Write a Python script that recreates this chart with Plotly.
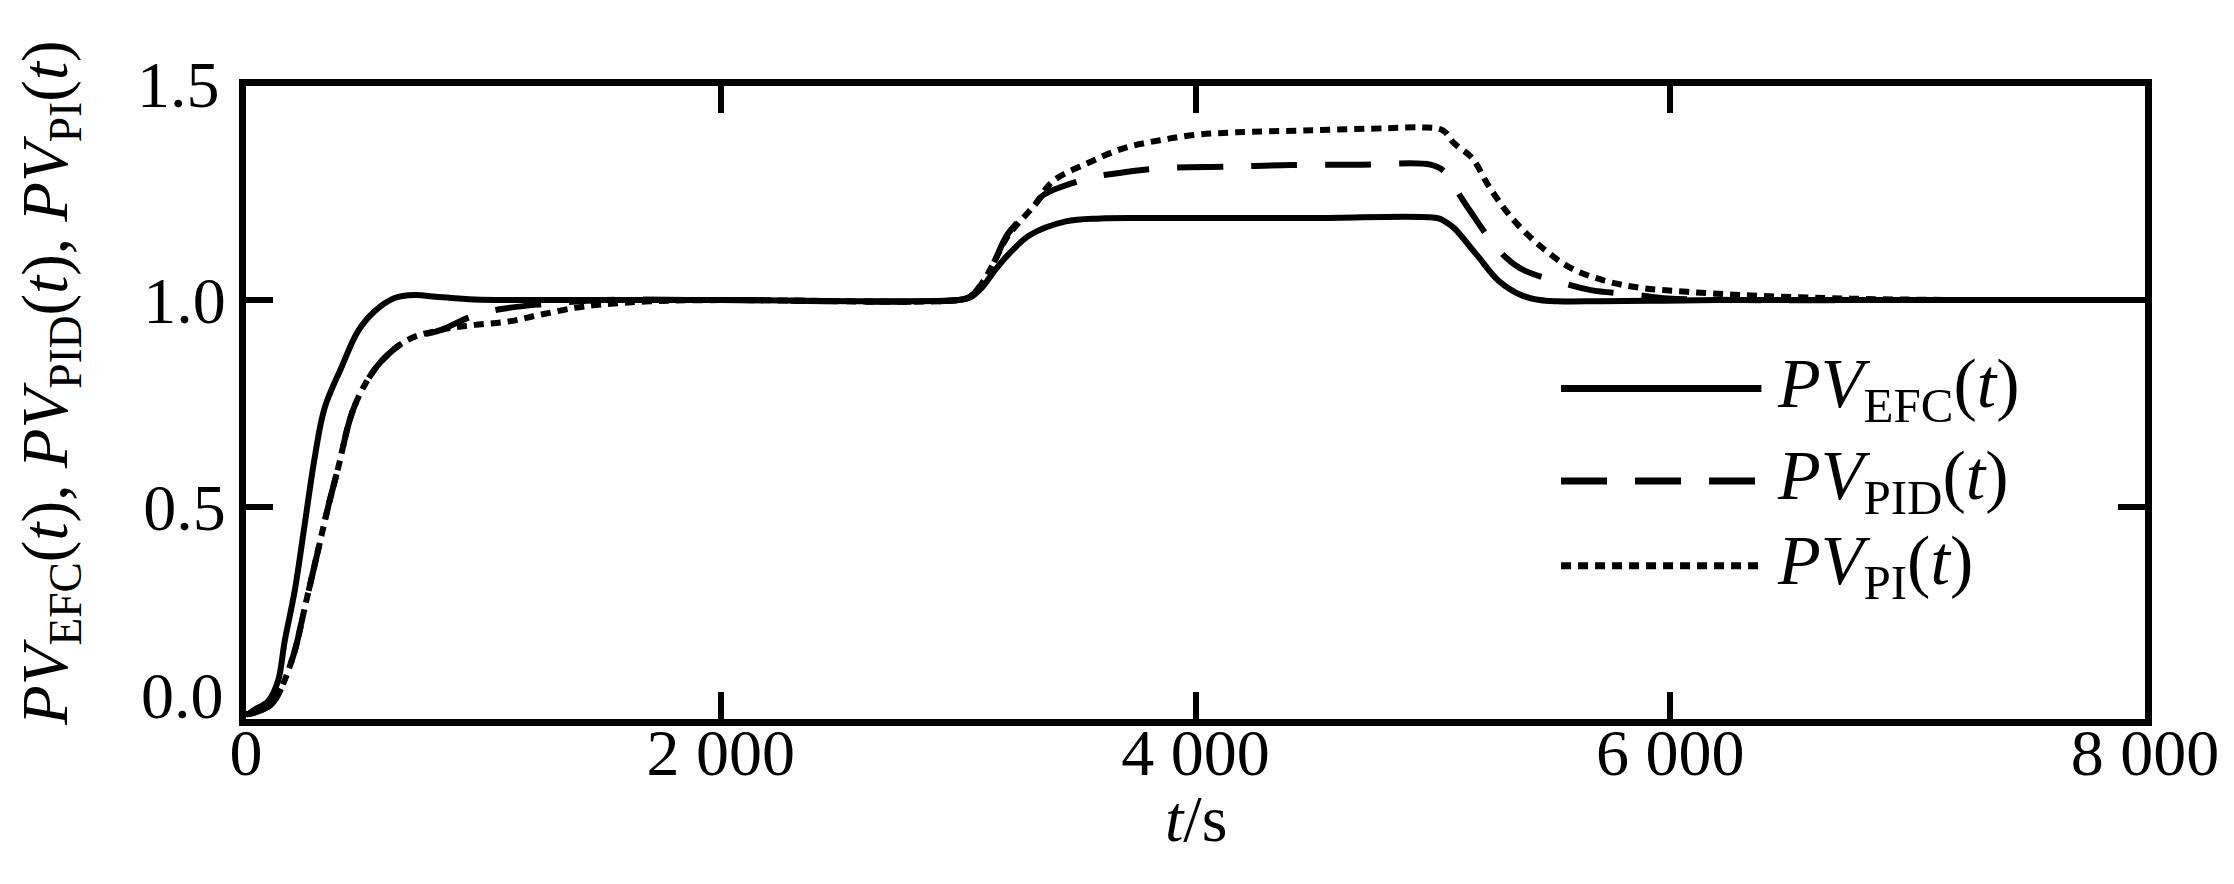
import plotly.graph_objects as go

# ---- data ----
t_efc = [0, 8, 40, 93, 135, 163, 205, 247, 289, 331, 401, 472, 542, 626, 711, 800, 963, 1200, 2000, 3000,
         3050, 3100, 3150, 3210, 3303, 3454, 3600, 3829, 4500, 5017, 5050, 5089, 5185, 5278, 5371, 5450,
         5523, 5700, 5918, 6200, 7000, 8000]
v_efc = [0, 0, 0.012, 0.031, 0.08, 0.176, 0.297, 0.457, 0.618, 0.739, 0.836, 0.925, 0.973, 1.005, 1.012, 1.008, 1.001, 1.0, 1.0, 1.0,
         1.006, 1.03, 1.068, 1.109, 1.157, 1.19, 1.197, 1.198, 1.198, 1.198, 1.19, 1.174, 1.109, 1.046, 1.012, 1.0,
         0.997, 0.997, 0.998, 1.0, 1.0, 1.0]

t_pid = [0, 8, 60, 110, 149, 205, 247, 303, 345, 388, 444, 500, 570, 682, 823, 935, 1062, 1250, 1511, 2000, 3000,
         3050, 3100, 3150, 3210, 3323, 3360, 3558, 3680, 3876, 4140, 4400, 4700, 4990, 5050, 5089, 5157, 5278,
         5367, 5548, 5666, 5864, 5990, 6300, 7000, 8000]
v_pid = [0, 0, 0.008, 0.025, 0.063, 0.152, 0.256, 0.394, 0.498, 0.594, 0.723, 0.795, 0.852, 0.904, 0.928, 0.957, 0.977, 0.99, 1.0, 1.0, 1.0,
         1.008, 1.04, 1.09, 1.16, 1.23, 1.254, 1.295, 1.307, 1.319, 1.322, 1.326, 1.327, 1.327, 1.31, 1.275, 1.215, 1.12,
         1.077, 1.041, 1.024, 1.012, 1.004, 1.0, 1.0, 1.0]

t_pi = [0, 8, 60, 110, 149, 205, 247, 303, 345, 388, 444, 500, 570, 682, 823, 963, 1104, 1244, 1385, 1496, 1700, 2000, 3000,
        3050, 3100, 3150, 3210, 3323, 3399, 3547, 3699, 3850, 3998, 4170, 4490, 4807, 4958, 5042, 5089, 5165, 5240,
        5333, 5447, 5582, 5729, 5881, 6070, 6300, 6652, 7000, 8000]
v_pi = [0, 0, 0.008, 0.025, 0.063, 0.152, 0.256, 0.394, 0.498, 0.594, 0.723, 0.795, 0.852, 0.904, 0.928, 0.94, 0.948, 0.965, 0.981, 0.989, 0.997, 1.0, 1.0,
        1.008, 1.04, 1.09, 1.155, 1.23, 1.287, 1.331, 1.367, 1.386, 1.399, 1.405, 1.41, 1.415, 1.417, 1.41, 1.379, 1.343, 1.271,
        1.198, 1.133, 1.077, 1.046, 1.029, 1.02, 1.012, 1.005, 1.001, 1.0]

x_ticks = [0, 2000, 4000, 6000, 8000]
x_tick_text = ["0", "2 000", "4 000", "6 000", "8 000"]
y_ticks = [0.0, 0.5, 1.0, 1.5]
y_tick_text = ["0.0", "0.5", "1.0", "1.5"]

series_names = ["<i>PV</i><sub>EFC</sub>(<i>t</i>)",
                "<i>PV</i><sub>PID</sub>(<i>t</i>)",
                "<i>PV</i><sub>PI</sub>(<i>t</i>)"]
x_title = "<i>t</i>/s"
y_title = ", ".join(series_names)

FONT = "Liberation Serif, Times New Roman, serif"
LW = 6
dashes = ["solid", "46px,28px", "10px,7px"]

fig = go.Figure()
for tt, vv, nm, ds in [(t_efc, v_efc, series_names[0], dashes[0]),
                       (t_pid, v_pid, series_names[1], dashes[1]),
                       (t_pi, v_pi, series_names[2], dashes[2])]:
    fig.add_trace(go.Scatter(x=tt, y=vv, mode="lines", name=nm,
                             line=dict(color="black", width=LW, dash=ds, shape="spline", smoothing=1.0),
                             showlegend=False))

# legend drawn as sample lines + text (paper coordinates)
leg_y = [0.522, 0.376, 0.242]
for yy, nm, ds in zip(leg_y, series_names, dashes):
    fig.add_shape(type="line", xref="paper", yref="paper", x0=0.6925, x1=0.798, y0=yy, y1=yy,
                  line=dict(color="black", width=LW + 1, dash=ds))
    fig.add_annotation(xref="paper", yref="paper", x=0.805, y=yy, xanchor="left", yanchor="middle",
                       text=nm, showarrow=False, font=dict(family=FONT, size=70, color="black"))

axis_common = dict(showline=True, linecolor="black", linewidth=7, mirror="ticks",
                   ticks="inside", ticklen=27, tickwidth=6, tickcolor="black",
                   showgrid=False, zeroline=False,
                   tickfont=dict(family=FONT, size=66, color="black"))

fig.update_xaxes(range=[0, 8000], tickvals=x_ticks, ticktext=x_tick_text,
                 ticklabelstandoff=-30, **axis_common)
# ticks only at interior values; end labels (which sit off their tick) as annotations
fig.update_yaxes(range=[-0.012, 1.517], tickvals=y_ticks[1:3], ticktext=y_tick_text[1:3],
                 **axis_common)
fig.add_annotation(xref="paper", yref="paper", x=-0.0127, y=(711 - 77) / 633, xanchor="right", yanchor="middle",
                   text=y_tick_text[3], showarrow=False, font=dict(family=FONT, size=66, color="black"))
fig.add_annotation(xref="paper", yref="paper", x=-0.0105, y=(711 - 687) / 633, xanchor="right", yanchor="middle",
                   text=y_tick_text[0], showarrow=False, font=dict(family=FONT, size=66, color="black"))

# axis titles
fig.add_annotation(xref="paper", yref="paper", x=0.5, y=(711 - 810) / 633, xanchor="center", yanchor="middle",
                   text=x_title, showarrow=False, font=dict(family=FONT, size=66, color="black"))
fig.add_annotation(xref="paper", yref="paper", x=(42 - 238) / 1899, y=(711 - 375) / 633, xanchor="center",
                   yanchor="middle", textangle=-90,
                   text=y_title, showarrow=False, font=dict(family=FONT, size=65, color="black"))

fig.update_layout(width=2234, height=884, plot_bgcolor="white", paper_bgcolor="white",
                  margin=dict(l=238, r=97, t=78, b=173, autoexpand=False))

fig.write_html("out.html")
